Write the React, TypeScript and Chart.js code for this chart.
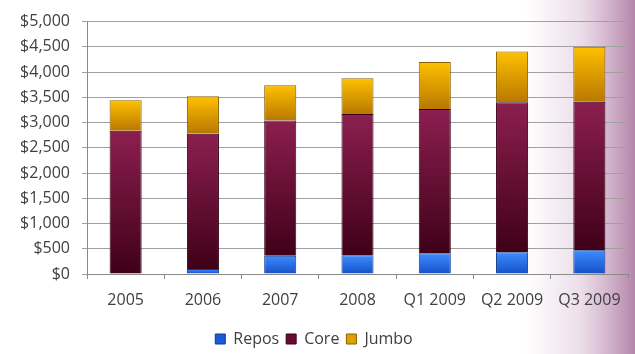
import React, { useEffect, useRef } from "react";
import { Chart, registerables } from "chart.js";

Chart.register(...registerables);

const categories = ["2005", "2006", "2007", "2008", "Q1 2009", "Q2 2009", "Q3 2009"];
const repos = [0, 100, 360, 370, 410, 430, 470];
const core = [2840, 2680, 2680, 2800, 2860, 2970, 2940];
const jumbo = [600, 740, 700, 710, 930, 1010, 1090];
const yTicks = [0, 500, 1000, 1500, 2000, 2500, 3000, 3500, 4000, 4500, 5000];

const seriesList = [repos, core, jumbo];
const seriesNames = ["Repos", "Core", "Jumbo"];
const gradStops: string[][] = [
  ["#3d8cff", "#1650c8"],
  ["#8c1f50", "#3f0018"],
  ["#ffc000", "#b87800"],
];
const legendFill = ["#1a5ad8", "#6a0a30", "#e0a000"];
const borders = ["#0e3a8a", "#3a0016", "#8a6000"];

function makeFill(dsIndex: number) {
  return (ctx: any) => {
    const chart = ctx.chart;
    const y = chart.scales && chart.scales.y;
    if (!chart.chartArea || !y || ctx.dataIndex === undefined) return gradStops[dsIndex][1];
    let start = 0;
    for (let k = 0; k < dsIndex; k++) start += seriesList[k][ctx.dataIndex];
    const end = start + seriesList[dsIndex][ctx.dataIndex];
    const y0 = y.getPixelForValue(start);
    const y1 = y.getPixelForValue(end);
    if (!isFinite(y0) || !isFinite(y1) || y0 === y1) return gradStops[dsIndex][1];
    const g = chart.ctx.createLinearGradient(0, y1, 0, y0);
    g.addColorStop(0, gradStops[dsIndex][0]);
    g.addColorStop(1, gradStops[dsIndex][1]);
    return g;
  };
}

const bgPlugin = {
  id: "bgPlugin",
  beforeDraw(chart: any) {
    const { ctx, width, height } = chart;
    ctx.save();
    ctx.fillStyle = "#ffffff";
    ctx.fillRect(0, 0, width, height);
    const w = 110;
    const g = ctx.createLinearGradient(width - w, 0, width, 0);
    g.addColorStop(0, "rgba(170,110,160,0)");
    g.addColorStop(0.5, "rgba(170,110,160,0.22)");
    g.addColorStop(1, "rgba(150,80,135,0.7)");
    ctx.fillStyle = g;
    ctx.fillRect(width - w, 0, w, height);
    ctx.restore();
  },
};

export default function App() {
  const ref = useRef<HTMLCanvasElement>(null);
  useEffect(() => {
    document.body.style.margin = "0";
    const font = "'Open Sans', 'Liberation Sans', sans-serif";
    const chart = new Chart(ref.current!, {
      type: "bar",
      data: {
        labels: categories,
        datasets: seriesList.map((d, i) => ({
          label: seriesNames[i],
          data: d,
          backgroundColor: makeFill(i),
          borderColor: borders[i],
          borderWidth: 1,
        })),
      },
      plugins: [bgPlugin],
      options: {
        animation: false,
        responsive: false,
        maintainAspectRatio: false,
        layout: { padding: { top: 17, right: 7, left: 0, bottom: -3 } },
        datasets: { bar: { categoryPercentage: 1, barPercentage: 0.415 } },
        plugins: {
          legend: {
            position: "bottom",
            labels: {
              boxWidth: 10,
              boxHeight: 10,
              color: "#404040",
              font: { family: font, size: 16 },
              padding: 7,
              generateLabels: (c: any) =>
                c.data.datasets.map((ds: any, i: number) => ({
                  text: ds.label,
                  fillStyle: legendFill[i],
                  strokeStyle: borders[i],
                  lineWidth: 1,
                  fontColor: "#404040",
                  datasetIndex: i,
                  hidden: false,
                })),
            },
          },
          tooltip: { enabled: false },
        },
        scales: {
          x: {
            stacked: true,
            afterFit: (s: any) => { s.height = 50; },
            grid: { display: true, drawOnChartArea: false, drawTicks: true, tickLength: 5, color: "#8a8a8a" },
            border: { display: true, color: "#8a8a8a" },
            ticks: { color: "#404040", font: { family: font, size: 16 }, padding: 12, maxRotation: 0 },
          },
          y: {
            stacked: true,
            min: 0,
            max: 5000,
            afterFit: (s: any) => { s.width = 87; },
            afterBuildTicks: (s: any) => { s.ticks = yTicks.map((v) => ({ value: v })); },
            grid: { color: "#a0a0a0", tickLength: 5, drawTicks: true },
            border: { display: true, color: "#8a8a8a" },
            ticks: {
              color: "#404040",
              font: { family: font, size: 16 },
              padding: 12,
              callback: (v: any) => "$" + Number(v).toLocaleString("en-US"),
            },
          },
        },
      },
    });
    return () => chart.destroy();
  }, []);
  return <canvas ref={ref} width={635} height={354} style={{ display: "block" }} />;
}
